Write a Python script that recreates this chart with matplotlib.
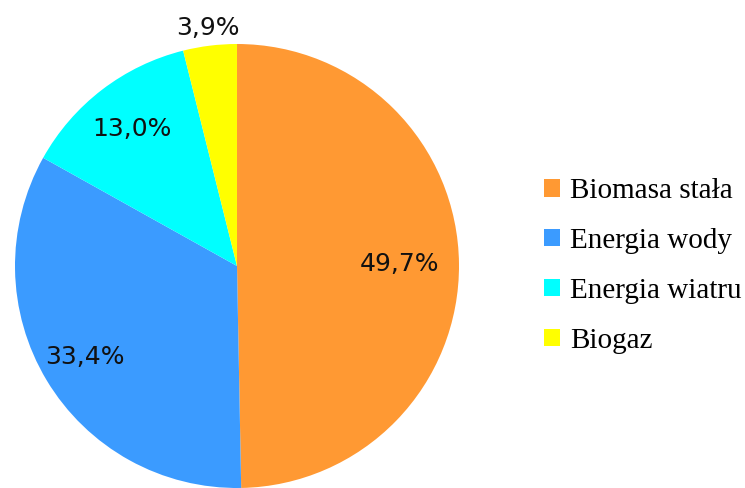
import numpy as np
import matplotlib.pyplot as plt
from matplotlib.patches import Patch

labels = ['Biomasa stała', 'Energia wody', 'Energia wiatru', 'Biogaz']
values = [49.7, 33.4, 13.0, 3.9]
pct_text = ['49,7%', '33,4%', '13,0%', '3,9%']
colors = ['#FF9933', '#3B9BFF', '#00FFFF', '#FFFF00']
label_dist = [0.73, 0.80, 0.78, 1.08]

fig = plt.figure(figsize=(7.45, 4.88), dpi=100)
ax = fig.add_axes([15 / 745, 0, 444 / 745, 444 / 488])
wedges, _ = ax.pie(values, colors=colors, startangle=90, counterclock=False,
                   radius=1, wedgeprops=dict(linewidth=0))
for w in wedges:
    w.set_clip_on(False)
ax.set_xlim(-1, 1)
ax.set_ylim(-1, 1)
ax.set_aspect('equal')
ax.axis('off')

# percentage labels at each wedge's middle angle
total = sum(values)
cum = 0
for v, t, d in zip(values, pct_text, label_dist):
    mid = 90 - (cum + v / 2) / total * 360
    cum += v
    a = np.deg2rad(mid)
    ax.text(d * np.cos(a), d * np.sin(a), t, ha='center', va='center',
            fontsize=18, family='DejaVu Sans', color='#111111')

handles = [Patch(facecolor=c, edgecolor='none') for c in colors]
fig.legend(handles, labels, loc='center left', bbox_to_anchor=(0.71, 0.455),
           frameon=False, prop={'family': 'Liberation Serif', 'size': 21},
           handlelength=0.55, handleheight=0.55, handletextpad=0.35,
           labelspacing=0.82, borderpad=0)

fig.savefig('out.png', dpi=100)
